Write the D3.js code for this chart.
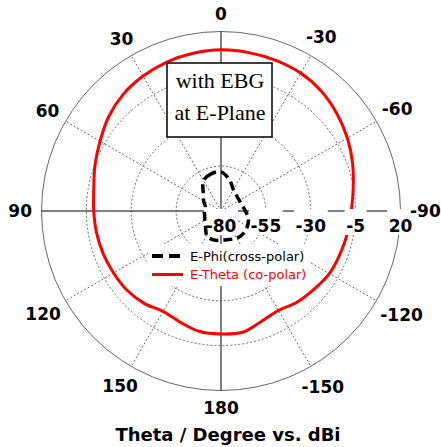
<!DOCTYPE html>
<html lang="en">
<head>
    <meta charset="UTF-8">
    <title>E-Plane pattern with EBG</title>
    <style>
        body {
            margin: 0;
            background-color: white;
        }
        svg {
            display: block;
        }
    </style>
</head>
<body>
    <svg width="441" height="447"></svg>
    <script src="https://d3js.org/d3.v7.min.js"></script>
    <script>
        // radial axis (dBi) and angle ticks
        const radialTicks = [-80, -55, -30, -5, 20];
        const angleTicks = [0, 30, 60, 90, 120, 150, 180, -150, -120, -90, -60, -30];

        // E-Theta (co-polar), theta in degrees (CCW from top) and gain in dBi
        const coTheta = [0, 10, 20, 30, 40, 50, 60, 70, 80, 90, 100, 110, 120, 130, 140, 150, 160, 170, 180,
                         -170, -160, -150, -140, -130, -120, -110, -100, -90, -80, -70, -60, -50, -40, -30, -20, -10];
        const coGain = [9.8, 9.2, 8.3, 6.8, 4.8, 1.7, -2.2, -5.3, -8.0, -9.1, -9.6, -10.2, -10.9, -11.5, -13.0, -15.4, -14.0, -11.8, -11.5,
                        -11.4, -14.5, -16.0, -13.8, -12.3, -10.3, -9.5, -8.5, -7.4, -5.2, -2.0, 1.3, 4.3, 7.0, 8.7, 9.3, 9.6];

        // E-Phi (cross-polar)
        const xTheta = [0, 15, 30, 45, 60, 75, 90, 105, 120, 135, 150, 165, 180,
                        -165, -150, -135, -120, -105, -90, -75, -60, -45, -30, -15];
        const xGain = [-58.2, -58.6, -60.5, -66.0, -68.8, -71.0, -70.6, -70.6, -69.5, -67.8, -64.2, -63.3, -63.6,
                       -63.5, -62.4, -62.3, -63.0, -64.2, -66.4, -67.8, -68.2, -67.8, -66.2, -62.0];

        const legendLabels = ["E-Phi(cross-polar)", "E-Theta (co-polar)"];
        const boxLines = ["with EBG", "at E-Plane"];
        const title = "Theta / Degree vs. dBi";

        const svg = d3.select("svg");
        const cx = 221, cy = 211, R = 179.5;
        const rScale = d3.scaleLinear().domain([-80, 20]).range([0, R]);
        const rad = d => d * Math.PI / 180;

        const g = svg.append("g").attr("transform", `translate(${cx},${cy})`);

        // grid circles
        g.selectAll(".ring")
            .data(radialTicks.slice(1, -1))
            .join("circle")
            .attr("r", d => rScale(d))
            .attr("fill", "none")
            .attr("stroke", "#444")
            .attr("stroke-width", 0.8)
            .attr("stroke-dasharray", "2,2");

        g.append("circle")
            .attr("r", R)
            .attr("fill", "none")
            .attr("stroke", "#666")
            .attr("stroke-width", 1);

        // spokes
        g.selectAll(".spoke")
            .data(angleTicks.filter(a => a % 90 !== 0))
            .join("line")
            .attr("x1", 0).attr("y1", 0)
            .attr("x2", d => -R * Math.sin(rad(d)))
            .attr("y2", d => -R * Math.cos(rad(d)))
            .attr("stroke", "#444")
            .attr("stroke-width", 0.8)
            .attr("stroke-dasharray", "2,2");

        // axes
        g.append("line").attr("x1", -R).attr("x2", R).attr("y1", 0).attr("y2", 0)
            .attr("stroke", "#000").attr("stroke-width", 1);
        g.append("line").attr("y1", -R).attr("y2", R).attr("x1", 0).attr("x2", 0)
            .attr("stroke", "#000").attr("stroke-width", 1);

        const radial = d3.lineRadial()
            .angle(d => -rad(d[0]))
            .radius(d => rScale(d[1]))
            .curve(d3.curveCatmullRomClosed);

        // co-polar curve
        g.append("path")
            .attr("d", radial(d3.zip(coTheta, coGain)))
            .attr("fill", "none")
            .attr("stroke", "#ff0000")
            .attr("stroke-width", 3);

        // annotation box
        svg.append("rect")
            .attr("x", 167).attr("y", 63).attr("width", 105).attr("height", 74)
            .attr("fill", "white").attr("stroke", "#000").attr("stroke-width", 1.5);
        svg.selectAll(".boxtext")
            .data(boxLines)
            .join("text")
            .attr("x", 220)
            .attr("y", (d, i) => 88 + i * 32)
            .attr("text-anchor", "middle")
            .attr("font-family", "Liberation Serif, serif")
            .attr("font-size", 22)
            .text(d => d);

        // radial tick labels with white backgrounds
        const rl = g.selectAll(".rlabel")
            .data(radialTicks)
            .join("g");
        rl.append("text")
            .attr("x", d => rScale(d))
            .attr("y", 21)
            .attr("text-anchor", "middle")
            .attr("font-family", "DejaVu Sans, sans-serif")
            .attr("font-weight", "bold")
            .attr("font-size", 17)
            .text(d => d);
        rl.each(function () {
            const t = d3.select(this).select("text");
            const b = t.node().getBBox();
            d3.select(this).insert("rect", "text")
                .attr("x", b.x - 1.5).attr("y", -2)
                .attr("width", b.width + 3).attr("height", b.y + b.height + 1)
                .attr("fill", "white");
        });

        // angle labels
        g.selectAll(".alabel")
            .data(angleTicks)
            .join("text")
            .attr("text-anchor", "middle")
            .attr("dy", "0.35em")
            .attr("font-family", "DejaVu Sans, sans-serif")
            .attr("font-weight", "bold")
            .attr("font-size", 17)
            .text(d => d)
            .each(function (d) {
                const w = this.getComputedTextLength();
                const s = Math.sin(rad(d)), c = Math.cos(rad(d));
                const rr = 197 + Math.abs(s) * (w / 2 - 8);
                d3.select(this).attr("x", -rr * s).attr("y", -rr * c);
            });

        // legend
        svg.append("rect")
            .attr("x", 148).attr("y", 244).attr("width", 162).attr("height", 42)
            .attr("fill", "white");
        const lg = svg.selectAll(".legend")
            .data(legendLabels)
            .join("g")
            .attr("transform", (d, i) => `translate(152,${256 + i * 18.5})`);
        lg.append("line")
            .attr("x1", 0).attr("x2", d => d === legendLabels[0] ? 28 : 31)
            .attr("stroke", (d, i) => i === 0 ? "#000" : "#ff0000")
            .attr("stroke-width", (d, i) => i === 0 ? 4 : 3)
            .attr("stroke-dasharray", (d, i) => i === 0 ? "11,6" : null);
        lg.append("text")
            .attr("x", 38)
            .attr("y", 4.5)
            .attr("font-family", "DejaVu Sans, sans-serif")
            .attr("font-size", 13)
            .attr("fill", (d, i) => i === 0 ? "#000" : "#ff0000")
            .text(d => d);

        // cross-polar curve
        g.append("path")
            .attr("d", radial(d3.zip(xTheta, xGain)))
            .attr("fill", "none")
            .attr("stroke", "#000")
            .attr("stroke-width", 3.5)
            .attr("stroke-dasharray", "9,5");

        // title
        svg.append("text")
            .attr("x", 228)
            .attr("y", 441)
            .attr("text-anchor", "middle")
            .attr("font-family", "DejaVu Sans, sans-serif")
            .attr("font-weight", "bold")
            .attr("font-size", 18)
            .text(title);
    </script>
</body>
</html>
